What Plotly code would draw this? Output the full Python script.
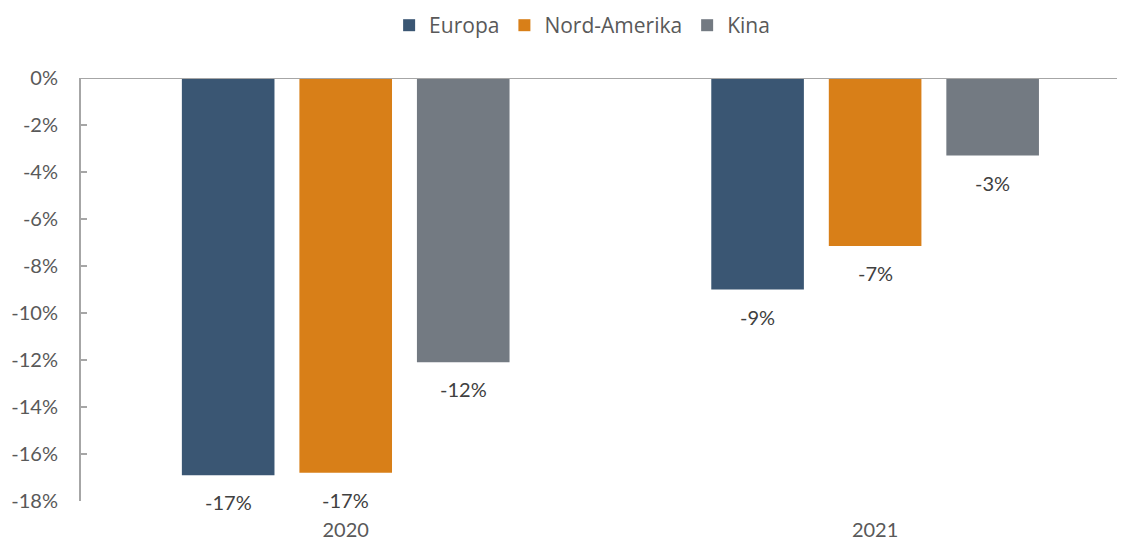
import plotly.graph_objects as go

years = ["2020", "2021"]
series_names = ["Europa", "Nord-Amerika", "Kina"]
europa = [-16.9, -9.0]
nord_amerika = [-16.8, -7.15]
kina = [-12.1, -3.3]
y_ticks = [0, -2, -4, -6, -8, -10, -12, -14, -16, -18]

colors = ["#3a5673", "#d87f18", "#737a82"]
label_font = dict(family="Lato, Carlito, sans-serif", size=20, color="#404040")

fig = go.Figure()
all_values = [europa, nord_amerika, kina]
for name, vals, col in zip(series_names, all_values, colors):
    fig.add_trace(go.Bar(x=years, y=vals, name=name, marker_color=col,
                         marker_line_width=0))

# data labels under each bar
slot = 0.222
for i, vals in enumerate(all_values):
    for j, v in enumerate(vals):
        fig.add_annotation(x=j + (i - 1) * slot, y=v, text=f"{round(v):d}%",
                           showarrow=False, yanchor="top", yshift=-13,
                           font=label_font)

# zero line at the top of the plot
fig.add_shape(type="line", xref="paper", yref="y", x0=0, x1=1, y0=0, y1=0,
              line=dict(color="#a6a6a6", width=2))

# page body adds 8px, so the figure is 8px smaller than the window
fig.update_layout(
    width=1117, height=533,
    margin=dict(l=73, r=0, t=70, b=40, autoexpand=False),
    paper_bgcolor="white", plot_bgcolor="white",
    barmode="group", bargap=0.334, bargroupgap=0.212,
    font=dict(family="Lato, sans-serif", size=20, color="#595959"),
    legend=dict(orientation="h", x=0.48, xanchor="center", y=1.124,
                yanchor="middle", font=dict(family="Open Sans", size=21,
                                            color="#595959"),
                itemwidth=30, traceorder="normal"),
    showlegend=True,
)
fig.update_xaxes(type="category", range=[-0.5, 1.472], showline=False,
                 showgrid=False, ticks="", ticklabelstandoff=15,
                 automargin=False,
                 tickfont=dict(family="Lato, sans-serif", size=20,
                               color="#595959"))
fig.update_yaxes(range=[-18, 0], tickvals=y_ticks,
                 ticktext=[f"{t}%" for t in y_ticks],
                 showgrid=False, zeroline=False, showline=True,
                 linecolor="#a6a6a6", linewidth=2, ticks="inside",
                 ticklen=6, tickcolor="#a6a6a6", tickwidth=2,
                 ticklabelstandoff=17, automargin=False,
                 tickfont=dict(family="Lato, sans-serif", size=20,
                               color="#595959"))

fig.write_html("out.html")
